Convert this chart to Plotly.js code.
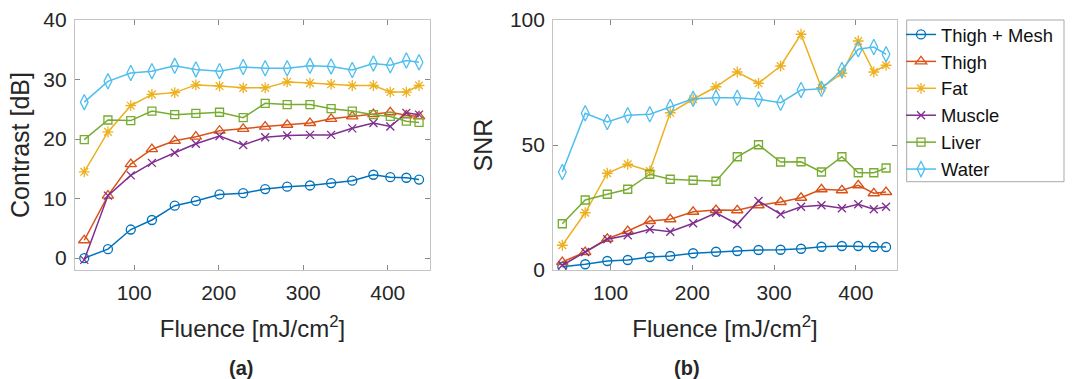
<!DOCTYPE html>
<html><head><meta charset="utf-8">
<script src="https://cdn.plot.ly/plotly-3.0.1.min.js"></script>
<style>html,body{margin:0;padding:0;background:#fff}#chart{width:1074px;height:379px}</style>
</head><body><div id="chart"></div>
<script>
const fluence = [41, 69, 96, 121, 148, 173, 201, 229, 255, 281, 308, 333, 358, 383, 403, 422, 437];
const seriesNames = ["Thigh + Mesh", "Thigh", "Fat", "Muscle", "Liver", "Water"];

// Contrast [dB] (panel a)
const contrastThighMesh = [0, 1.5, 4.8, 6.4, 8.8, 9.6, 10.7, 10.9, 11.6, 12.0, 12.2, 12.6, 13.0, 14.0, 13.6, 13.5, 13.2];
const contrastThigh     = [3.0, 10.5, 15.8, 18.3, 19.7, 20.4, 21.4, 21.7, 22.1, 22.4, 22.7, 23.4, 23.8, 24.2, 24.5, 24.0, 23.8];
const contrastFat       = [14.5, 21.2, 25.6, 27.5, 27.8, 29.1, 28.9, 28.6, 28.6, 29.6, 29.4, 29.2, 29.0, 29.0, 27.9, 27.9, 29.0];
const contrastMuscle    = [-0.3, 10.5, 13.9, 16.0, 17.7, 19.2, 20.5, 19.0, 20.3, 20.6, 20.7, 20.7, 21.8, 22.7, 22.1, 24.4, 24.1];
const contrastLiver     = [19.9, 23.2, 23.1, 24.7, 24.1, 24.3, 24.5, 23.6, 26.0, 25.8, 25.8, 25.1, 24.7, 24.1, 23.8, 23.0, 22.8];
const contrastWater     = [26.2, 29.7, 31.1, 31.4, 32.3, 31.7, 31.4, 32.1, 31.9, 31.9, 32.3, 32.2, 31.6, 32.7, 32.4, 33.2, 32.9];

// SNR (panel b)
const snrThighMesh = [1.3, 2.3, 3.6, 4.0, 5.2, 5.6, 6.7, 7.3, 7.6, 8.0, 8.1, 8.5, 9.3, 9.6, 9.6, 9.3, 9.2];
const snrThigh     = [3.2, 7.2, 12.5, 15.6, 19.6, 20.3, 23.3, 24.0, 23.9, 25.9, 27.2, 28.9, 32.3, 31.9, 33.9, 30.7, 31.2];
const snrFat       = [9.9, 22.9, 38.7, 42.3, 39.6, 62.9, 68.3, 73.3, 79.2, 74.7, 81.6, 94.3, 72.9, 78.7, 91.6, 79.2, 81.9];
const snrMuscle    = [1.9, 7.2, 12.3, 13.9, 16.3, 15.3, 18.7, 22.9, 18.3, 27.6, 22.3, 25.3, 25.9, 24.7, 26.3, 24.3, 25.3];
const snrLiver     = [18.5, 28.0, 30.3, 32.3, 38.3, 36.3, 35.9, 35.5, 45.3, 50.1, 43.2, 43.3, 39.2, 45.3, 38.9, 38.9, 40.8];
const snrWater     = [39.2, 62.7, 59.2, 61.9, 62.3, 65.2, 68.5, 68.9, 68.9, 68.3, 66.9, 72.0, 72.5, 80.0, 88.3, 89.2, 86.3];

const xTicks = [100, 200, 300, 400];
const yTicksA = [0, 10, 20, 30, 40];
const yTicksB = [0, 50, 100];

const colors = ["#0072BD", "#D95319", "#EDB120", "#7E2F8E", "#77AC30", "#4DBEEE"];
const symbols = ["circle-open", "triangle-up-open", "asterisk-open", "x-thin-open", "square-open", "diamond-tall-open"];
const sizes = [9, 10, 9, 8, 8, 11];

const contrastSets = [contrastThighMesh, contrastThigh, contrastFat, contrastMuscle, contrastLiver, contrastWater];
const snrSets = [snrThighMesh, snrThigh, snrFat, snrMuscle, snrLiver, snrWater];

const traces = [];
seriesNames.forEach((name, i) => {
  traces.push({
    x: fluence, y: contrastSets[i], name: name, type: "scatter", mode: "lines+markers",
    xaxis: "x", yaxis: "y", showlegend: false, legendgroup: name,
    line: {color: colors[i], width: 1.5},
    marker: {symbol: symbols[i], size: sizes[i], color: colors[i], line: {width: 1.3, color: colors[i]}}
  });
});
seriesNames.forEach((name, i) => {
  traces.push({
    x: fluence, y: snrSets[i], name: name, type: "scatter", mode: "lines+markers",
    xaxis: "x2", yaxis: "y2", showlegend: true, legendgroup: name,
    line: {color: colors[i], width: 1.5},
    marker: {symbol: symbols[i], size: sizes[i], color: colors[i], line: {width: 1.3, color: colors[i]}}
  });
});

const fontFam = "Liberation Sans, Arial, sans-serif";
const textCol = "#262626";
const axisCommon = {
  showgrid: false, zeroline: false, showline: true, linecolor: "#c4c4c4", linewidth: 1.2,
  mirror: "ticks", ticks: "inside", ticklen: 5, tickcolor: "#8a8a8a", tickwidth: 1,
  tickfont: {family: fontFam, size: 21, color: textCol}
};
const W = 1074, H = 379;

const layout = {
  width: W, height: H,
  margin: {l: 0, r: 0, t: 0, b: 0},
  paper_bgcolor: "#fff", plot_bgcolor: "#fff",
  font: {family: fontFam, color: textCol},
  xaxis: Object.assign({}, axisCommon, {
    domain: [0.0698, 0.4004], range: [30, 450], tickvals: xTicks, anchor: "y", ticklabelstandoff: 4,
    title: {text: "Fluence [mJ/cm<sup>2</sup>]", font: {family: fontFam, size: 24, color: textCol}, standoff: 16}
  }),
  yaxis: Object.assign({}, axisCommon, {
    domain: [0.2876, 0.9472], range: [-2, 40], tickvals: yTicksA, anchor: "x", ticklabelstandoff: 3,
    title: {text: "Contrast [dB]", font: {family: fontFam, size: 25, color: textCol}, standoff: 6}
  }),
  xaxis2: Object.assign({}, axisCommon, {
    domain: [0.5152, 0.8349], range: [30, 450], tickvals: xTicks, anchor: "y2", ticklabelstandoff: 4,
    title: {text: "Fluence [mJ/cm<sup>2</sup>]", font: {family: fontFam, size: 24, color: textCol}, standoff: 16}
  }),
  yaxis2: Object.assign({}, axisCommon, {
    domain: [0.2876, 0.9472], range: [0, 100], tickvals: yTicksB, anchor: "x2", ticklabelstandoff: 3,
    title: {text: "SNR", font: {family: fontFam, size: 25, color: textCol}, standoff: 10}
  }),
  legend: {
    x: 901 / W, y: 1 - 16 / H, xanchor: "left", yanchor: "top",
    borderwidth: 0, bgcolor: "rgba(0,0,0,0)",
    font: {family: fontFam, size: 18.4, color: "#111"},
    itemwidth: 30, tracegroupgap: 0
  },
  shapes: [
    {type: "rect", xref: "paper", yref: "paper", x0: 906.7 / W, x1: 1064 / W, y0: 1 - 181.7 / H, y1: 1 - 20 / H,
     line: {color: "#a8a8a8", width: 1}, fillcolor: "rgba(0,0,0,0)", layer: "below"}
  ],
  annotations: [
    {text: "<b>(a)</b>", x: 240.7 / W, y: 1 - 368 / H, xref: "paper", yref: "paper", xanchor: "center", yanchor: "middle", showarrow: false, font: {family: fontFam, size: 20, color: textCol}},
    {text: "<b>(b)</b>", x: 686.7 / W, y: 1 - 368 / H, xref: "paper", yref: "paper", xanchor: "center", yanchor: "middle", showarrow: false, font: {family: fontFam, size: 20, color: textCol}}
  ]
};

Plotly.newPlot("chart", traces, layout, {displayModeBar: false, staticPlot: true});
</script>
</body></html>
